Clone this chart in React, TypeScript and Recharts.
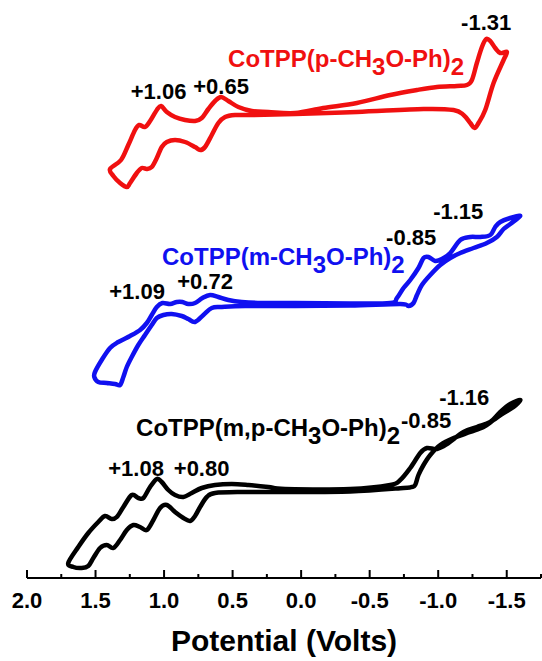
import React from 'react';
import { Line, LineChart, ReferenceDot, XAxis, YAxis } from 'recharts';

// Cyclic voltammograms of three CoTPP derivatives, stacked with an offset.
// x = potential (V, reversed axis), i = current in arbitrary units.

type Pt = [number, number];

const RED_LOOP: Pt[] = [
  [1.394, 409], [1.314, 418], [1.261, 433], [1.212, 448], [1.182, 453], [1.139, 451],
  [1.102, 457], [1.053, 468], [1.022, 472], [0.98, 466], [0.92, 461], [0.847, 458],
  [0.774, 457], [0.725, 460], [0.677, 469], [0.628, 477], [0.584, 481], [0.531, 477],
  [0.458, 471], [0.36, 467], [0.239, 466], [0.044, 465], [-0.161, 470], [-0.407, 475],
  [-0.65, 483], [-0.845, 488], [-0.991, 491], [-1.137, 492], [-1.209, 493], [-1.246, 498],
  [-1.282, 515], [-1.319, 531], [-1.35, 539], [-1.38, 537], [-1.416, 530], [-1.453, 525],
  [-1.501, 526], [-1.477, 518], [-1.404, 495], [-1.343, 468], [-1.294, 455], [-1.265, 450],
  [-1.234, 455], [-1.185, 463], [-1.112, 468], [-0.893, 469], [-0.407, 466], [0.044, 464],
  [0.36, 463], [0.482, 463], [0.555, 461], [0.604, 455], [0.652, 443], [0.701, 431],
  [0.737, 428], [0.774, 431], [0.847, 436], [0.92, 438], [0.98, 436], [1.017, 431],
  [1.053, 420], [1.09, 411], [1.126, 409], [1.163, 410], [1.199, 405], [1.248, 395],
  [1.272, 391], [1.321, 395], [1.37, 402],
];

const BLUE_LOOP: Pt[] = [
  [1.504, 206], [1.455, 218], [1.394, 230], [1.334, 236], [1.248, 242], [1.175, 248],
  [1.126, 255], [1.09, 263], [1.053, 271], [1.012, 275], [0.956, 274], [0.907, 276],
  [0.866, 276], [0.823, 274], [0.774, 275], [0.72, 280], [0.664, 283], [0.604, 281],
  [0.531, 278], [0.433, 276], [0.287, 275], [0.044, 275], [-0.358, 274.5], [-0.65, 275],
  [-0.699, 280], [-0.747, 290], [-0.796, 298], [-0.856, 310], [-0.893, 320], [-0.929, 321],
  [-0.978, 317], [-1.027, 319], [-1.088, 325], [-1.161, 338], [-1.234, 341], [-1.307, 341],
  [-1.38, 343], [-1.416, 351], [-1.453, 356], [-1.526, 360], [-1.599, 362],
  [-1.526, 354], [-1.477, 349], [-1.428, 341], [-1.355, 335], [-1.258, 330], [-1.161, 325],
  [-1.088, 320], [-1.015, 313], [-0.942, 303], [-0.881, 293], [-0.845, 283], [-0.82, 275],
  [-0.783, 272], [-0.723, 274], [-0.358, 272.5], [0.044, 272], [0.409, 272], [0.579, 271],
  [0.652, 270], [0.713, 263], [0.774, 256], [0.823, 259], [0.871, 262], [0.944, 264],
  [1.005, 263], [1.053, 260], [1.09, 253], [1.139, 243], [1.188, 233], [1.236, 221],
  [1.272, 211], [1.297, 201], [1.321, 193], [1.358, 194], [1.418, 195], [1.48, 196],
  [1.509, 201],
];

const BLACK_LOOP: Pt[] = [
  [1.699, 15], [1.626, 31], [1.553, 45], [1.48, 56], [1.431, 62], [1.382, 59], [1.345, 61],
  [1.297, 71], [1.236, 83], [1.188, 80], [1.151, 80], [1.102, 91], [1.053, 99], [1.017, 96],
  [0.969, 88], [0.92, 83], [0.859, 81], [0.798, 85], [0.725, 90], [0.628, 93], [0.506, 94],
  [0.385, 93], [0.239, 91], [0.117, 89], [-0.358, 89], [-0.65, 93], [-0.723, 98],
  [-0.796, 110], [-0.869, 125], [-0.918, 130], [-0.991, 129], [-1.064, 134], [-1.185, 146],
  [-1.282, 151], [-1.38, 156], [-1.453, 166], [-1.526, 174], [-1.599, 178],
  [-1.55, 171], [-1.477, 165], [-1.404, 158], [-1.331, 151], [-1.234, 146], [-1.112, 140],
  [-1.015, 133], [-0.942, 123], [-0.893, 113], [-0.856, 103], [-0.832, 93], [-0.808, 91],
  [-0.747, 90], [-0.358, 86.5], [0.117, 86], [0.433, 86], [0.628, 85], [0.688, 81],
  [0.737, 71], [0.774, 62], [0.81, 57], [0.859, 60], [0.92, 66], [0.98, 73], [1.029, 70],
  [1.078, 58], [1.126, 48], [1.175, 51], [1.224, 53], [1.272, 48], [1.321, 38], [1.37, 30],
  [1.418, 33], [1.467, 30], [1.516, 20], [1.553, 12], [1.601, 10], [1.662, 11],
];

const MAJOR_TICKS = [2, 1.5, 1, 0.5, 0, -0.5, -1, -1.5];
const TICK_LABELS = ['2.0', '1.5', '1.0', '0.5', '0.0', '-0.5', '-1.0', '-1.5'];
const MINOR_TICKS = [1.75, 1.25, 0.75, 0.25, -0.25, -0.75, -1.25, -1.75];

// peak potentials written next to the waves: [text, potential, current]
const PEAK_NOTES: [string, number, number][] = [
  ['-1.31', -1.35, 556],
  ['+1.06', 1.04, 487],
  ['+0.65', 0.584, 492],
  ['-1.15', -1.146, 366.5],
  ['-0.85', -0.803, 340.5],
  ['+1.09', 1.197, 286.5],
  ['+0.72', 0.701, 296.5],
  ['-1.16', -1.19, 181],
  ['-0.85', -0.912, 158],
  ['+1.08', 1.204, 109.5],
  ['+0.80', 0.726, 109.5],
];

// compound names; odd segments are subscripts
const NAMES: { segs: string[]; v: number; i: number; color: string }[] = [
  { segs: ['CoTPP(p-CH', '3', 'O-Ph)', '2'], v: 0.533, i: 519, color: '#f01010' },
  { segs: ['CoTPP(m-CH', '3', 'O-Ph)', '2'], v: 1.015, i: 321, color: '#1010f0' },
  { segs: ['CoTPP(m,p-CH', '3', 'O-Ph)', '2'], v: 1.204, i: 150, color: '#000000' },
];

const FONT = '"Liberation Sans", Arial, sans-serif';

const toRows = (pts: Pt[]) => pts.map(([v, i]) => ({ v, i }));

// closed Catmull-Rom so each voltammogram is one smooth loop
const smoothLoop = (ctx: any) => {
  let pts: number[][] = [];
  return {
    areaStart() {},
    areaEnd() {},
    lineStart() {
      pts = [];
    },
    point(x: number, y: number) {
      pts.push([+x, +y]);
    },
    lineEnd() {
      const n = pts.length;
      if (!n) return;
      ctx.moveTo(pts[0][0], pts[0][1]);
      for (let k = 0; k < n; k++) {
        const p0 = pts[(k - 1 + n) % n];
        const p1 = pts[k];
        const p2 = pts[(k + 1) % n];
        const p3 = pts[(k + 2) % n];
        ctx.bezierCurveTo(
          p1[0] + (p2[0] - p0[0]) / 6,
          p1[1] + (p2[1] - p0[1]) / 6,
          p2[0] - (p3[0] - p1[0]) / 6,
          p2[1] - (p3[1] - p1[1]) / 6,
          p2[0],
          p2[1],
        );
      }
      ctx.closePath();
    },
  };
};

const AxisTick = (props: any) => {
  const { x, y, payload } = props;
  const idx = MAJOR_TICKS.indexOf(payload.value);
  const major = idx >= 0;
  return (
    <g>
      <line x1={x} x2={x} y1={y} y2={y - (major ? 8 : 4)} stroke="#000" strokeWidth={2} />
      {major && (
        <text
          x={x}
          y={y + 30}
          textAnchor="middle"
          fontSize={22}
          fontWeight="bold"
          fontFamily={FONT}
          fill="#000"
        >
          {TICK_LABELS[idx]}
        </text>
      )}
    </g>
  );
};

const nameLabel = (segs: string[], color: string) => (props: any) => {
  const vb = props.viewBox || {};
  const x = vb.x + (vb.width || 0) / 2;
  const y = vb.y + (vb.height || 0) / 2;
  return (
    <text x={x} y={y + 8} fill={color} fontSize={24} fontWeight="bold" fontFamily={FONT}>
      {segs.map((s, k) => (
        <tspan key={k} dy={k === 0 ? 0 : k % 2 ? 8 : -8}>
          {s}
        </tspan>
      ))}
    </text>
  );
};

const SERIES = [
  { key: 'p', rows: toRows(RED_LOOP), color: '#f01010' },
  { key: 'm', rows: toRows(BLUE_LOOP), color: '#1010f0' },
  { key: 'mp', rows: toRows(BLACK_LOOP), color: '#000000' },
];

export default function App() {
  return (
    <div style={{ position: 'absolute', left: 0, top: 0, width: 542, height: 661, background: '#fff' }}>
      <LineChart width={542} height={661} margin={{ top: 0, right: 1, bottom: 0, left: 27 }}>
        <XAxis
          type="number"
          dataKey="v"
          domain={[-1.75, 2]}
          reversed
          allowDataOverflow
          ticks={[...MAJOR_TICKS, ...MINOR_TICKS].sort((a, b) => b - a)}
          interval={0}
          tick={(p: any) => <AxisTick {...p} />}
          tickLine={false}
          tickSize={0}
          tickMargin={0}
          height={83}
          axisLine={{ stroke: '#000', strokeWidth: 2 }}
          label={{
            value: 'Potential (Volts)',
            position: 'insideBottom',
            offset: 10,
            fill: '#000',
            fontSize: 30,
            fontWeight: 'bold',
            fontFamily: FONT,
          }}
        />
        <YAxis type="number" dataKey="i" domain={[0, 578]} hide width={0} allowDataOverflow />
        {SERIES.map((s) => (
          <Line
            key={s.key}
            data={s.rows}
            dataKey="i"
            type={smoothLoop as any}
            stroke={s.color}
            strokeWidth={4.5}
            strokeLinejoin="round"
            fill="none"
            dot={false}
            activeDot={false}
            isAnimationActive={false}
          />
        ))}
        {PEAK_NOTES.map(([t, v, i], k) => (
          <ReferenceDot
            key={`n${k}`}
            x={v}
            y={i}
            r={0}
            fill="none"
            stroke="none"
            label={{
              value: t,
              position: 'center',
              fill: '#000',
              fontSize: 22,
              fontWeight: 'bold',
              fontFamily: FONT,
            }}
          />
        ))}
        {NAMES.map((n, k) => (
          <ReferenceDot
            key={`c${k}`}
            x={n.v}
            y={n.i}
            r={0}
            fill="none"
            stroke="none"
            label={{ content: nameLabel(n.segs, n.color) }}
          />
        ))}
      </LineChart>
    </div>
  );
}
